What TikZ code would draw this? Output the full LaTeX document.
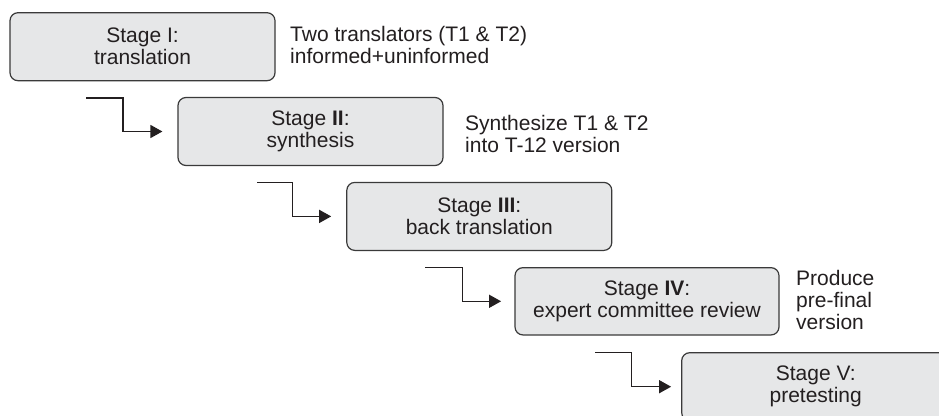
\documentclass[tikz,border=0pt]{standalone}
\usepackage{fontspec}
\setmainfont{Liberation Sans}
\usetikzlibrary{arrows.meta}
\definecolor{boxfill}{HTML}{E6E7E8}
\definecolor{boxline}{HTML}{3A3A3A}
\definecolor{inkc}{HTML}{231F20}
\tikzset{
  stagebox/.style={draw=boxline, fill=boxfill, line width=1.2pt, rounded corners=8pt,
    align=center, text=inkc, inner sep=0pt, minimum width=265pt, minimum height=68pt,
    font=\fontsize{21}{22}\selectfont},
  sidetext/.style={anchor=north west, align=left, inner sep=0pt, text=inkc,
    font=\fontsize{21}{22}\selectfont},
  conn/.style={draw=inkc, line width=1.4pt, -{Triangle[length=12pt,width=13pt]}}
}
\begin{document}
\begin{tikzpicture}[x=1pt,y=-1pt]
\clip (0,0) rectangle (939,415);
\fill[white] (0,0) rectangle (939,415);
% stage boxes
\node[stagebox] (b1) at (142.5,46.7) {Stage I:\\translation};
\node[stagebox] (b2) at (310.5,131.5) {Stage \textbf{II}:\\synthesis};
\node[stagebox] (b3) at (479.3,216.4) {Stage \textbf{III}:\\back translation};
\node[stagebox, minimum width=264pt, minimum height=67.3pt] (b4) at (647,301.3) {Stage \textbf{IV}:\\expert committee review};
\node[stagebox, minimum width=268pt] (b5) at (815.7,386.7) {Stage V:\\pretesting};
% side notes
\node[sidetext] (n1) at (290,26) {Two translators (T1 \& T2)\\informed+uninformed};
\node[sidetext] (n2) at (465,115) {Synthesize T1 \& T2\\into T-12 version};
\node[sidetext] (n4) at (796,270) {Produce\\pre-final\\version};
% connectors
\coordinate (s1) at (86,98);
\coordinate (s2) at (257,182.7);
\coordinate (s3) at (425,267.7);
\coordinate (s4) at (595,352.7);
\draw[conn] (s1) -- ++(37,0) |- ([xshift=-15pt]b2.west);
\draw[conn] (s2) -- ++(35.7,0) |- ([xshift=-15pt]b3.west);
\draw[conn] (s3) -- ++(37.7,0) |- ([xshift=-13.3pt]b4.west);
\draw[conn] (s4) -- ++(36.7,0) |- ([xshift=-10pt]b5.west);
\end{tikzpicture}
\end{document}
